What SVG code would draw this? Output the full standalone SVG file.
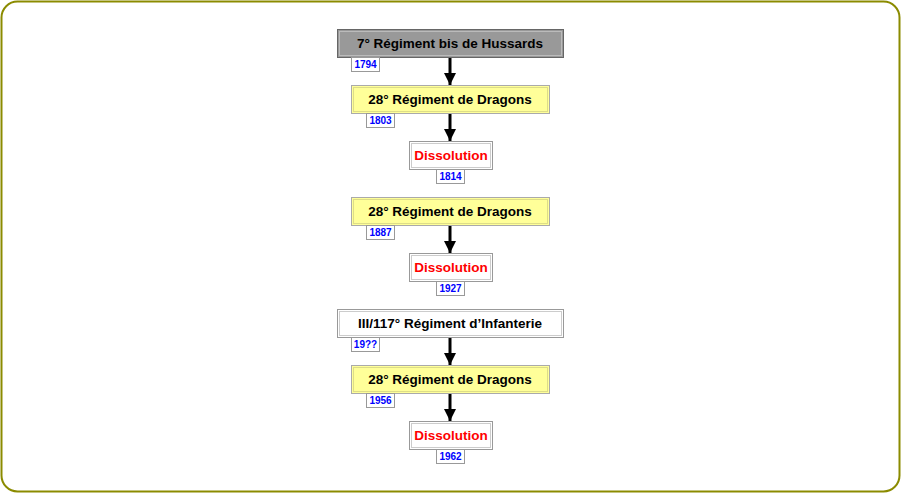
<svg xmlns="http://www.w3.org/2000/svg" width="901" height="493" viewBox="0 0 901 493">
<defs>
<style>
.t{font-family:"Liberation Sans",Arial,sans-serif;font-weight:bold;font-size:13.5px;text-anchor:middle}
.y{font-family:"Liberation Sans",Arial,sans-serif;font-weight:bold;font-size:10px;text-anchor:middle;fill:#0000ff}
.yb{fill:#fff;stroke:#999;stroke-width:1}
.gray{fill:#999;stroke:#666;stroke-width:1}
.grayi{fill:none;stroke:#bbb;stroke-width:1}
.yel{fill:#ffff99;stroke:#aaa;stroke-width:1}
.yeli{fill:none;stroke:#dddd88;stroke-width:1}
.wht{fill:#fff;stroke:#999;stroke-width:1}
.whti{fill:none;stroke:#ccc;stroke-width:1}
.c{stroke:#000;stroke-width:3;fill:none}
</style>
<marker id="ah" viewBox="0 0 12 12" refX="12" refY="6" markerWidth="12" markerHeight="13" markerUnits="userSpaceOnUse" orient="auto">
<path d="M0,0 L12,6 L0,12 Z" fill="#000"/>
</marker>
</defs>
<rect x="1.5" y="1.5" width="898" height="490" rx="16" ry="16" fill="#fff" stroke="#8b8b00" stroke-width="2"/>
<g id="connectors">
<line class="c" x1="450" y1="57" x2="450" y2="85" marker-end="url(#ah)"/>
<line class="c" x1="450" y1="113" x2="450" y2="141" marker-end="url(#ah)"/>
<line class="c" x1="450" y1="225" x2="450" y2="253" marker-end="url(#ah)"/>
<line class="c" x1="450" y1="337" x2="450" y2="365" marker-end="url(#ah)"/>
<line class="c" x1="450" y1="393" x2="450" y2="421" marker-end="url(#ah)"/>
</g>
<g id="n1">
<rect class="gray" x="337.5" y="29.5" width="226" height="28"/>
<rect class="grayi" x="339.5" y="31.5" width="222" height="24"/>
<text class="t" x="450" y="48" fill="#000">7° Régiment bis de Hussards</text>
<rect class="yb" x="351.5" y="57.5" width="28" height="14"/>
<text class="y" x="365.5" y="68">1794</text>
</g>
<g id="n2">
<rect class="yel" x="351.5" y="85.5" width="198" height="28"/>
<rect class="yeli" x="353.5" y="87.5" width="194" height="24"/>
<text class="t" x="450" y="104" fill="#000">28° Régiment de Dragons</text>
<rect class="yb" x="366.5" y="113.5" width="28" height="14"/>
<text class="y" x="380.5" y="124">1803</text>
</g>
<g id="n3">
<rect class="wht" x="409.5" y="141.5" width="83" height="28"/>
<rect class="whti" x="411.5" y="143.5" width="79" height="24"/>
<text class="t" x="451" y="160" fill="#ff0000">Dissolution</text>
<rect class="yb" x="436.5" y="169.5" width="28" height="14"/>
<text class="y" x="450.5" y="180">1814</text>
</g>
<g id="n4">
<rect class="yel" x="351.5" y="197.5" width="198" height="28"/>
<rect class="yeli" x="353.5" y="199.5" width="194" height="24"/>
<text class="t" x="450" y="216" fill="#000">28° Régiment de Dragons</text>
<rect class="yb" x="366.5" y="225.5" width="28" height="14"/>
<text class="y" x="380.5" y="236">1887</text>
</g>
<g id="n5">
<rect class="wht" x="409.5" y="253.5" width="83" height="28"/>
<rect class="whti" x="411.5" y="255.5" width="79" height="24"/>
<text class="t" x="451" y="272" fill="#ff0000">Dissolution</text>
<rect class="yb" x="436.5" y="281.5" width="28" height="14"/>
<text class="y" x="450.5" y="292">1927</text>
</g>
<g id="n6">
<rect class="wht" x="337.5" y="309.5" width="226" height="28"/>
<rect class="whti" x="339.5" y="311.5" width="222" height="24"/>
<text class="t" x="450" y="328" fill="#000">III/117° Régiment d’Infanterie</text>
<rect class="yb" x="351.5" y="337.5" width="28" height="14"/>
<text class="y" x="365.5" y="348">19??</text>
</g>
<g id="n7">
<rect class="yel" x="351.5" y="365.5" width="198" height="28"/>
<rect class="yeli" x="353.5" y="367.5" width="194" height="24"/>
<text class="t" x="450" y="384" fill="#000">28° Régiment de Dragons</text>
<rect class="yb" x="366.5" y="393.5" width="28" height="14"/>
<text class="y" x="380.5" y="404">1956</text>
</g>
<g id="n8">
<rect class="wht" x="409.5" y="421.5" width="83" height="28"/>
<rect class="whti" x="411.5" y="423.5" width="79" height="24"/>
<text class="t" x="451" y="440" fill="#ff0000">Dissolution</text>
<rect class="yb" x="436.5" y="449.5" width="28" height="14"/>
<text class="y" x="450.5" y="460">1962</text>
</g>
</svg>
